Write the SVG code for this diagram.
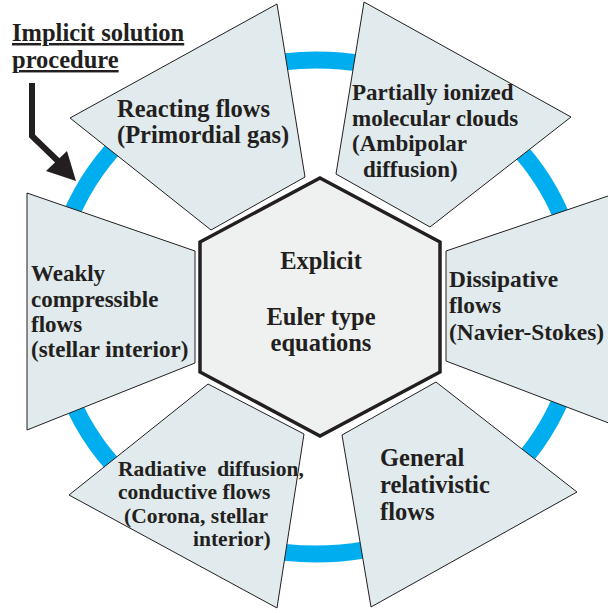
<svg xmlns="http://www.w3.org/2000/svg" width="608" height="613" viewBox="0 0 608 613">
<style>
.t{font-family:"Liberation Serif","Times New Roman",serif;font-weight:bold;fill:#231f20;}
.trap{fill:#e1eaed;stroke:#231f20;stroke-width:1;}
</style>
<rect width="608" height="613" fill="#ffffff"/>
<ellipse id="ring" cx="316" cy="307" rx="264" ry="247" fill="none" stroke="#00aeef" stroke-width="17"/>
<g id="reacting">
<polygon class="trap" points="277,4 70,118 211,230 305,177"/>
<text class="t" font-size="24.5"><tspan x="117" y="117">Reacting flows</tspan><tspan x="117" y="143">(Primordial gas)</tspan></text>
</g>
<g id="partially">
<polygon class="trap" points="364,2 571,117 430,227 336,174"/>
<text class="t" font-size="23"><tspan x="352" y="100">Partially ionized</tspan><tspan x="352" y="126">molecular clouds</tspan><tspan x="352" y="151">(Ambipolar</tspan><tspan x="363" y="177">diffusion)</tspan></text>
</g>
<g id="dissipative">
<polygon class="trap" points="446,251 614,194 614,425 446,361"/>
<text class="t" font-size="23.4"><tspan x="449" y="287">Dissipative</tspan><tspan x="449" y="313">flows</tspan><tspan x="449" y="340">(Navier-Stokes)</tspan></text>
</g>
<g id="general">
<polygon class="trap" points="436,382 577,492 371,607 342,435"/>
<text class="t" font-size="24.5"><tspan x="380" y="466">General</tspan><tspan x="380" y="493">relativistic</tspan><tspan x="380" y="520">flows</tspan></text>
</g>
<g id="radiative">
<polygon class="trap" points="208,384 304,434 277,608 69,495"/>
<text class="t" font-size="21.5" style="white-space:pre"><tspan x="118" y="476">Radiative  diffusion,</tspan><tspan x="118" y="499">conductive flows</tspan><tspan x="124" y="523">(Corona, stellar</tspan><tspan x="193" y="546">interior)</tspan></text>
</g>
<g id="weakly">
<polygon class="trap" points="27,193 195,251 195,363 27,430"/>
<text class="t" font-size="23"><tspan x="31" y="281">Weakly</tspan><tspan x="31" y="307">compressible</tspan><tspan x="31" y="332">flows</tspan><tspan x="31" y="357">(stellar interior)</tspan></text>
</g>
<g id="explicit">
<polygon points="320,178 440,242 440,372 320,436 200,372 200,242" fill="#eff1f0" stroke="#231f20" stroke-width="3.5"/>
<text class="t" font-size="24.5" text-anchor="middle"><tspan x="321" y="269">Explicit</tspan><tspan x="321" y="325">Euler type</tspan><tspan x="321" y="351">equations</tspan></text>
</g>
<g id="implicit">
<text class="t" font-size="24.5" text-decoration="underline"><tspan x="12" y="41">Implicit solution</tspan><tspan x="12" y="68">procedure</tspan></text>
</g>
<g id="connectors">
<polyline points="32,83 32,136 60,163" fill="none" stroke="#231f20" stroke-width="6"/>
<polygon points="76,181 46,171 67,151" fill="#231f20"/>
</g>
</svg>
